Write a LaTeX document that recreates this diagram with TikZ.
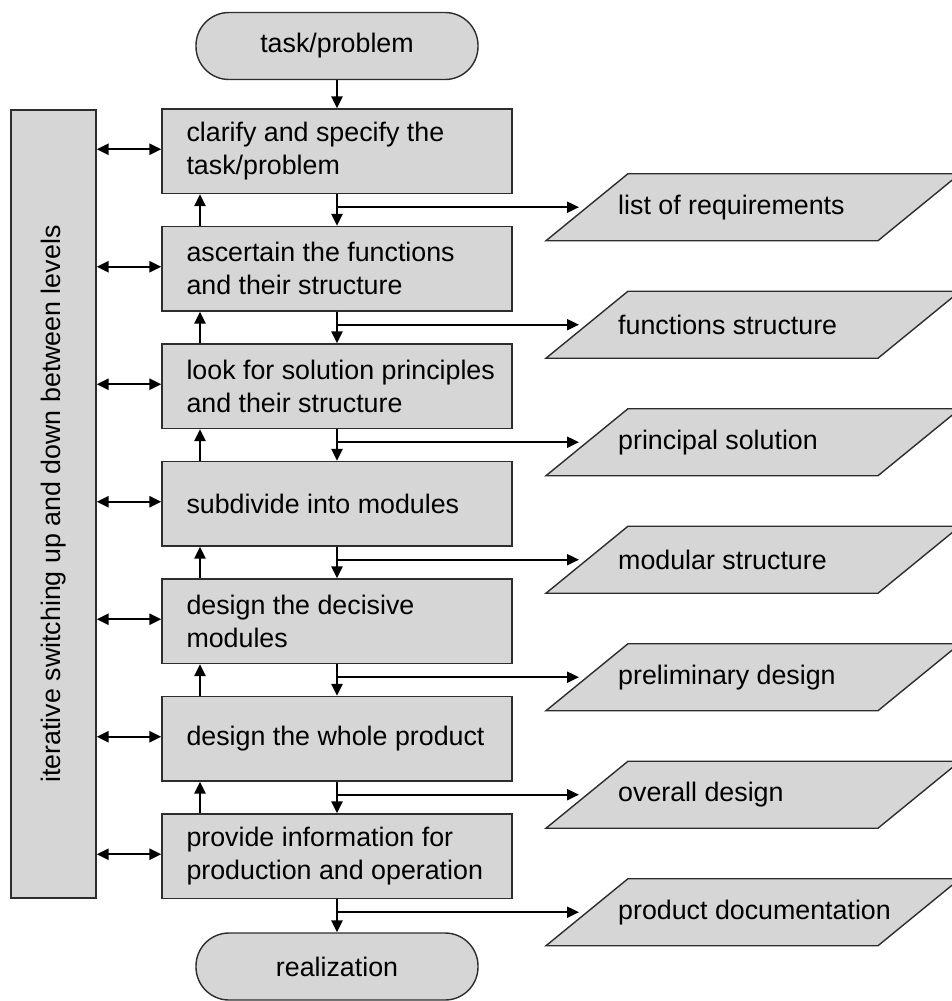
\documentclass[tikz,border=0pt]{standalone}
\usepackage{fontspec}
\setmainfont{Liberation Sans}
\usetikzlibrary{arrows.meta,calc}
\definecolor{boxfill}{RGB}{214,214,214}
\definecolor{boxline}{RGB}{45,45,45}

\begin{document}
\begin{tikzpicture}[x=1pt,y=-1pt,
  every node/.style={font=\fontsize{26.8}{33}\selectfont},
  stepbox/.style={draw=boxline,fill=boxfill,line width=1.4pt,minimum width=350pt,minimum height=84.5pt,inner sep=0pt},
  boxtext/.style={anchor=west,align=left,inner sep=0pt},
  sidebar/.style={draw=boxline,fill=boxfill,line width=1.4pt,minimum width=85pt,minimum height=788pt,inner sep=0pt},
  terminal/.style={draw=boxline,fill=boxfill,line width=1.4pt,rounded corners=33pt,minimum width=282pt,minimum height=67pt,inner sep=0pt},
  datashape/.style={draw=boxline,fill=boxfill,line width=1.4pt},
  datatext/.style={anchor=west,inner sep=0pt},
  arr/.style={-{Triangle[length=12pt,width=11pt]},line width=2.4pt},
  biarr/.style={{Triangle[length=12pt,width=11pt]}-{Triangle[length=12pt,width=11pt]},line width=2.4pt},
  branch/.style={-{Triangle[length=12pt,width=11pt]},line width=2pt}
]
\useasboundingbox (0,0) rectangle (951,1001);

% terminals
\node[terminal] (start) at (337,46) {task/problem};
\node[terminal] (finish) at (337,966.5) {realization};

% side bar
\node[sidebar] (bar) at (53.5,504) {};
\node[rotate=90,inner sep=0pt] (bartext) at (bar.center) {iterative switching up and down between levels};

% process steps
\node[stepbox] (b1) at (337,151.25) {};
\node[stepbox] (b2) at (337,268.75) {};
\node[stepbox] (b3) at (337,386.25) {};
\node[stepbox] (b4) at (337,503.75) {};
\node[stepbox] (b5) at (337,621.25) {};
\node[stepbox] (b6) at (337,738.75) {};
\node[stepbox] (b7) at (337,856.25) {};

\node[boxtext] (t1) at ([xshift=25pt]b1.west) {clarify and specify the\\task/problem};
\node[boxtext] (t2) at ([xshift=25pt]b2.west) {ascertain the functions\\and their structure};
\node[boxtext] (t3) at ([xshift=25pt]b3.west) {look for solution principles\\and their structure};
\node[boxtext] (t4) at ([xshift=25pt]b4.west) {subdivide into modules};
\node[boxtext] (t5) at ([xshift=25pt]b5.west) {design the decisive\\modules};
\node[boxtext] (t6) at ([xshift=25pt]b6.west) {design the whole product};
\node[boxtext] (t7) at ([xshift=25pt]b7.west) {provide information for\\production and operation};

% main flow
\draw[arr] (start) -- (b1);
\foreach \i/\j in {1/2,2/3,3/4,4/5,5/6,6/7}{
  \draw[arr] (b\i.south) -- (b\j.north);
  \draw[arr] ([xshift=-137pt]b\j.north) -- ([xshift=-137pt]b\i.south);
}
\draw[arr] (b7) -- (finish);

% links to the side bar
\foreach \i in {1,...,7}{
  \coordinate (l\i) at ([yshift=2pt]b\i.west);
  \draw[biarr] (bar.east |- l\i) -- (l\i);
}

% results of each step
\foreach \i/\txt in {1/list of requirements,2/functions structure,3/principal solution,
  4/modular structure,5/preliminary design,6/overall design,7/product documentation}{
  \coordinate (j\i) at ($(b\i.south)+(0,13)$);
  \coordinate (p\i) at ($(j\i)+(416,0)$);
  \draw[datashape] ($(p\i)+(-207,33.5)$) -- ($(p\i)+(-125,-33.5)$) -- ($(p\i)+(207,-33.5)$) -- ($(p\i)+(125,33.5)$) -- cycle;
  \node[datatext] (o\i) at ($(p\i)+(-135,0)$) {\txt};
  \draw[branch] (j\i) -- ($(p\i)+(-174,0)$);
}
\end{tikzpicture}
\end{document}
